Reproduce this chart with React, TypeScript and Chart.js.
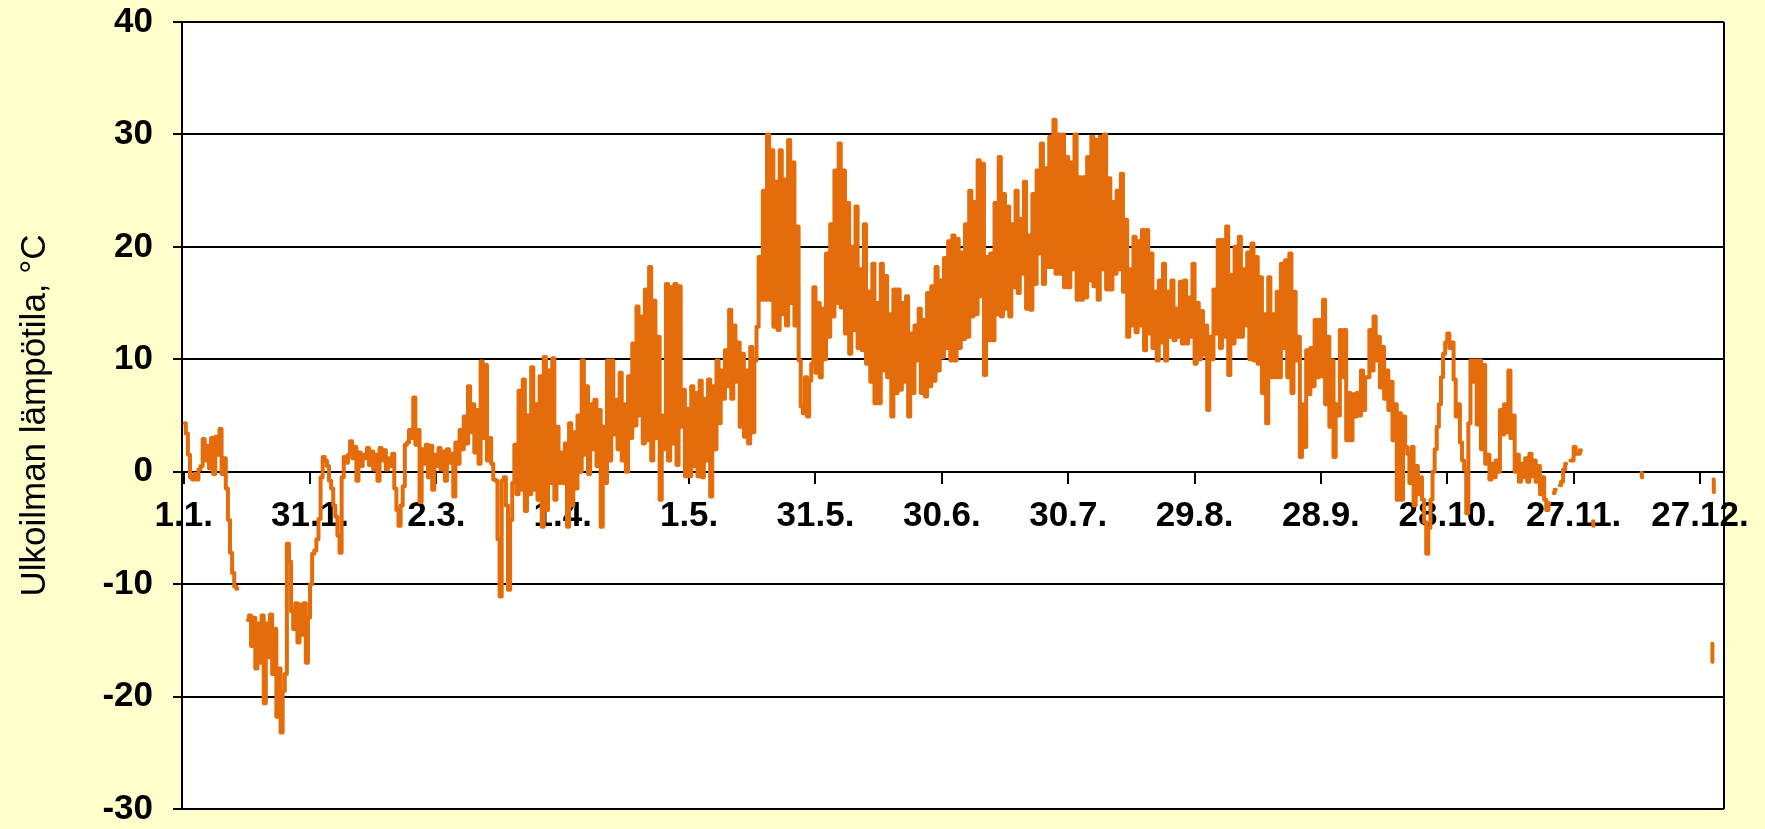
import { useEffect, useRef } from 'react';
import { Chart, registerables } from 'chart.js';

Chart.register(...registerables);

// Day-of-year at which each month starts (1.1. = day 0)
const monthStartDays = [0, 31, 59, 90, 120, 151, 181, 212, 243, 273, 304];

// Outdoor temperature, °C: two readings per day (half-day steps)
const jan = [
  4.3, 3.4, 1.5, -0.5, -0.7, -0.2, -0.7, 0.2, 0.5, 2.9,
  1.0, 2.3, 0.3, 3.0, -0.2, 3.1, 1.5, 3.8, -0.2, 1.2,
  -1.5, -4.3, -7.2, -9.0, -10.2, -10.4, null, null, null, null,
  -13.2, -12.8, -15.5, -13.0, -17.5, -13.5, -17.0, -12.8, -20.6, -13.5,
  -16.5, -12.7, -18.0, -14.0, -21.8, -17.5, -23.2, -19.5, -18.0, -6.4,
  -8.0, -12.4, -14.0, -11.7, -15.2, -11.8, -14.5, -11.7, -17.0, -13.0,
  -10.0, -7.3,
];
const feb = [
  -7.0, -6.0, -4.2, -0.5, 1.3, 1.0, 0.5, -0.8, -1.5, -3.0,
  -4.0, -5.7, -7.2, -0.5, 1.3, 0.8, 1.5, 2.7, 1.2, 2.2,
  -0.8, 1.7, 0.5, 1.5, 1.2, 2.1, 0.6, 1.8, 0.2, 1.5,
  -0.8, 2.1, 1.0, 1.9, 0.2, 1.2, 0.5, 1.6, -1.5, -3.4,
  -4.8, -3.0, -1.3, 2.4, 2.6, 3.7, 3.0, 6.6, 2.4, 3.7,
  -2.7, 2.0, 0.7, 2.4, -0.5, 2.3,
];
const mar = [
  -1.6, 1.5, 0.5, 2.1, 0.2, 1.8, -0.8, 2.0, 0.8, 1.6,
  -2.2, 2.6, 0.7, 3.7, 2.0, 4.9, 2.5, 7.6, 3.5, 6.0,
  1.7, 5.5, 0.7, 9.8, 3.0, 9.5, 1.0, 3.0, 0.7, -0.7,
  -0.8, -6.0, -11.1, -0.8, -0.5, -3.0, -10.5, -4.3, -1.0, 2.4,
  -2.0, 7.2, -1.6, 8.2, -3.5, 5.0, -2.0, 9.3, -1.6, 6.0,
  -2.5, 8.5, -4.9, 10.2, -3.4, 9.0, -1.0, 10.1, -2.5, 4.0,
  -1.0, 1.7,
];
const apr = [
  -1.0, 2.5, -4.9, 4.3, -3.0, 3.5, -1.5, 5.0, 0.0, 9.9,
  1.5, 7.6, -0.2, 6.0, 2.0, 6.4, 0.5, 5.5, -4.9, 4.0,
  -1.0, 9.9, 1.0, 9.9, 3.3, 6.4, 2.0, 8.8, 1.0, 6.0,
  0.0, 8.5, 3.0, 11.4, 4.1, 14.7, 5.0, 13.8, 2.5, 16.2,
  2.8, 18.2, 1.0, 15.2, 3.0, 12.0, -2.5, 5.0, 2.0, 16.7,
  1.0, 16.4, 2.5, 16.7, 0.6, 16.5, 4.0, 7.3, -0.4, 5.6,
];
const may = [
  -0.4, 7.6, 0.5, 7.0, -0.4, 8.1, -0.5, 6.5, 1.0, 8.2,
  -2.2, 7.6, 2.0, 9.9, 4.3, 9.0, 6.5, 10.8, 7.6, 14.4,
  6.5, 13.0, 8.0, 11.5, 4.0, 10.5, 3.1, 9.0, 2.5, 11.1,
  3.5, 9.9, 12.9, 19.1, 15.3, 25.0, 15.3, 30.0, 15.3, 28.6,
  12.9, 25.8, 12.6, 28.6, 14.0, 26.0, 13.0, 29.5, 15.0, 27.5,
  13.0, 21.8, 9.9, 5.8, 5.2, 8.4, 4.9, 8.1, 9.6, 16.4,
  8.8, 15.0,
];
const jun = [
  8.4, 14.5, 10.0, 19.4, 12.0, 22.0, 13.8, 26.8, 15.0, 29.2,
  14.6, 26.8, 12.3, 23.9, 10.5, 20.0, 12.6, 23.6, 11.0, 18.0,
  10.8, 22.0, 9.6, 16.0, 8.0, 18.5, 6.1, 15.0, 6.1, 18.5,
  9.0, 17.4, 8.4, 14.0, 4.9, 16.2, 7.0, 16.2, 7.3, 15.0,
  8.0, 15.6, 4.9, 12.3, 7.0, 13.0, 9.9, 14.5, 7.0, 13.5,
  6.7, 15.9, 7.6, 16.5, 8.1, 18.2, 9.0, 17.0, 10.2, 19.0,
];
const jul = [
  11.0, 20.5, 9.9, 21.0, 9.9, 20.7, 11.0, 19.5, 11.8, 22.0,
  12.0, 25.0, 13.8, 24.0, 14.0, 27.7, 15.6, 27.4, 8.6, 19.1,
  11.7, 19.4, 11.7, 23.9, 14.0, 28.0, 13.8, 24.7, 14.5, 23.6,
  13.8, 22.0, 16.4, 25.0, 15.9, 22.5, 17.6, 25.8, 14.5, 21.0,
  14.4, 24.7, 16.7, 26.8, 19.4, 29.2, 16.7, 27.0, 18.2, 29.8,
  18.2, 31.3, 17.6, 30.0, 17.6, 30.0, 16.4, 28.0, 16.4, 27.5,
  18.0, 30.0,
];
const aug = [
  15.3, 26.2, 15.3, 26.2, 15.5, 28.0, 17.0, 29.8, 16.5, 29.5,
  15.3, 29.8, 18.0, 30.0, 16.2, 26.1, 16.2, 24.0, 17.6, 25.0,
  18.0, 26.5, 16.0, 22.4, 12.0, 18.0, 13.0, 20.9, 12.4, 20.5,
  13.0, 21.5, 10.8, 21.5, 12.3, 19.4, 11.0, 16.0, 9.9, 17.0,
  11.5, 18.5, 9.9, 16.0, 12.0, 17.0, 11.7, 14.5, 12.0, 16.9,
  11.4, 17.0, 11.4, 15.5, 12.0, 18.5, 9.6, 15.0, 10.0, 14.3,
  10.4, 13.0,
];
const sep = [
  5.5, 12.0, 10.0, 16.2, 12.3, 20.6, 11.0, 20.6, 12.0, 21.8,
  8.6, 17.5, 11.4, 20.0, 12.0, 20.9, 12.0, 18.0, 13.0, 19.5,
  10.0, 20.3, 9.9, 19.1, 9.6, 17.3, 7.0, 14.0, 4.3, 17.3,
  8.4, 14.0, 8.4, 16.0, 8.4, 18.5, 11.0, 18.8, 8.4, 19.4,
  7.0, 16.0, 9.9, 12.0, 1.3, 6.0, 2.2, 10.8, 6.9, 11.0,
  7.6, 13.5, 8.4, 13.5, 8.5, 15.3, 6.0, 12.0, 4.0, 9.9,
];
const oct = [
  1.3, 6.0, 5.0, 12.6, 8.4, 12.6, 2.8, 7.0, 2.8, 6.9,
  4.9, 7.0, 5.0, 9.0, 5.5, 8.4, 8.4, 12.6, 9.0, 13.8,
  9.9, 12.0, 7.5, 11.1, 6.5, 9.0, 5.5, 8.0, 2.8, 6.0,
  -2.5, 5.2, -2.5, 4.9, 2.2, 1.6, -1.0, 2.2, -3.0, 0.5,
  -2.0, -0.5, -2.5, -4.5, -7.3, -5.0, -2.5, 0.0, 2.0, 4.0,
  6.0, 8.4, 10.5, 11.5, 12.3, 11.0, 11.5, 8.2, 4.9, 6.0,
  2.6, 1.0,
];
const nov = [
  0.2, -3.7, 4.3, 9.9, 8.0, 9.9, 4.2, 9.9, 2.0, 9.5,
  0.7, 1.5, -0.7, 0.7, -0.5, 1.0, 0.0, 5.5, 3.3, 6.0,
  3.5, 9.0, 3.0, 5.0, 0.0, 1.5, -0.9, 0.7, -0.5, 1.2,
  -0.9, 1.6, -0.4, 1.0, -0.9, 0.5, -2.0, -0.5, -2.5, -3.4,
  -2.8, null, -1.9, -1.6, null, -1.2, -0.9, 0.2, 0.7, null,
  1.0, 1.0, 2.2, 1.6, 1.6, 1.9, null, null, null, null,
];
// December: only a few isolated readings
const decDays = [334.6, 334.75, 335.0, 346.1, 346.3, 346.5, 362.9, 363.0, 363.1, 363.2, 363.35];
const decTemps = [-4.4, -4.8, null, -0.1, -0.5, null, -15.3, -16.9, null, -0.7, -1.8];

// X-axis tick labels every 30 days
const tickDays = [0, 30, 60, 90, 120, 150, 180, 210, 240, 270, 300, 330, 360];
const tickLabels = ['1.1.', '31.1.', '2.3.', '1.4.', '1.5.', '31.5.', '30.6.', '30.7.', '29.8.', '28.9.', '28.10.', '27.11.', '27.12.'];

const yTitle = 'Ulkoilman lämpötila, °C';

function buildPoints() {
  const months = [jan, feb, mar, apr, may, jun, jul, aug, sep, oct, nov];
  const pts: { x: number; y: number | null }[] = [];
  months.forEach((arr, m) => {
    arr.forEach((v, i) => pts.push({ x: monthStartDays[m] + i * 0.5 + 0.25, y: v }));
  });
  decDays.forEach((d, i) => pts.push({ x: d, y: decTemps[i] }));
  return pts;
}

const FONT = "'Liberation Sans', Arial, Helvetica, sans-serif";

const framePlugin = {
  id: 'frame',
  beforeDraw(chart: any) {
    const { ctx, chartArea } = chart;
    ctx.save();
    ctx.fillStyle = '#FFFFCC';
    ctx.fillRect(0, 0, chart.width, chart.height);
    ctx.fillStyle = '#FFFFFF';
    ctx.fillRect(chartArea.left, chartArea.top, chartArea.right - chartArea.left, chartArea.bottom - chartArea.top);
    ctx.restore();
  },
  afterDraw(chart: any) {
    const { ctx, chartArea } = chart;
    ctx.save();
    ctx.strokeStyle = '#000000';
    ctx.lineWidth = 2;
    ctx.beginPath();
    ctx.moveTo(chartArea.right, chartArea.top);
    ctx.lineTo(chartArea.right, chartArea.bottom);
    ctx.stroke();
    ctx.restore();
  },
};

export default function App() {
  const ref = useRef<HTMLCanvasElement>(null);

  useEffect(() => {
    if (!ref.current) return;
    Chart.defaults.font.family = FONT;
    const chart = new Chart(ref.current, {
      type: 'line',
      data: {
        datasets: [
          {
            data: buildPoints() as any,
            borderColor: '#E46C0A',
            borderWidth: 4,
            pointRadius: 0,
            tension: 0,
            stepped: 'middle',
            spanGaps: false,
            borderJoinStyle: 'round',
            borderCapStyle: 'round',
          },
        ],
      },
      options: {
        animation: false,
        responsive: false,
        devicePixelRatio: 1,
        events: [],
        layout: { padding: { top: 22, bottom: 20, left: 0, right: 41 } },
        plugins: { legend: { display: false }, tooltip: { enabled: false } },
        scales: {
          x: {
            type: 'linear',
            min: -0.4,
            max: 365.7,
            position: { y: 0 } as any,
            afterFit: (s: any) => {
              s.height = 0;
              s.paddingLeft = 0;
              s.paddingRight = 0;
            },
            afterBuildTicks: (s: any) => { s.ticks = tickDays.map((value) => ({ value })); },
            grid: { drawOnChartArea: false, drawTicks: true, tickLength: 11, color: '#000000', lineWidth: 2 },
            border: { display: true, color: '#000000', width: 2 },
            ticks: {
              autoSkip: false,
              maxRotation: 0,
              minRotation: 0,
              padding: 13,
              color: '#000000',
              font: { family: FONT, size: 35, weight: 'bold', lineHeight: 1.2 },
              callback: (_v: any, i: number) => tickLabels[i],
            },
          },
          y: {
            type: 'linear',
            min: -30,
            max: 40,
            afterFit: (s: any) => {
              s.width = 182;
              s.paddingTop = 0;
              s.paddingBottom = 0;
            },
            grid: { color: '#000000', lineWidth: 2, drawTicks: true, tickLength: 9 },
            border: { display: true, color: '#000000', width: 2 },
            ticks: {
              stepSize: 10,
              padding: 20,
              color: '#000000',
              font: { family: FONT, size: 35, weight: 'bold', lineHeight: 1 },
            },
            title: {
              display: true,
              text: yTitle,
              color: '#000000',
              padding: { top: 14, bottom: 0 },
              font: { family: FONT, size: 35, weight: 'normal', lineHeight: 1.2 },
            },
          },
        },
      },
      plugins: [framePlugin],
    });
    return () => chart.destroy();
  }, []);

  return (
    <div style={{ position: 'absolute', left: 0, top: 0, width: 1765, height: 829, background: '#FFFFCC' }}>
      <canvas ref={ref} width={1765} height={829} style={{ display: 'block', width: 1765, height: 829 }} />
    </div>
  );
}
